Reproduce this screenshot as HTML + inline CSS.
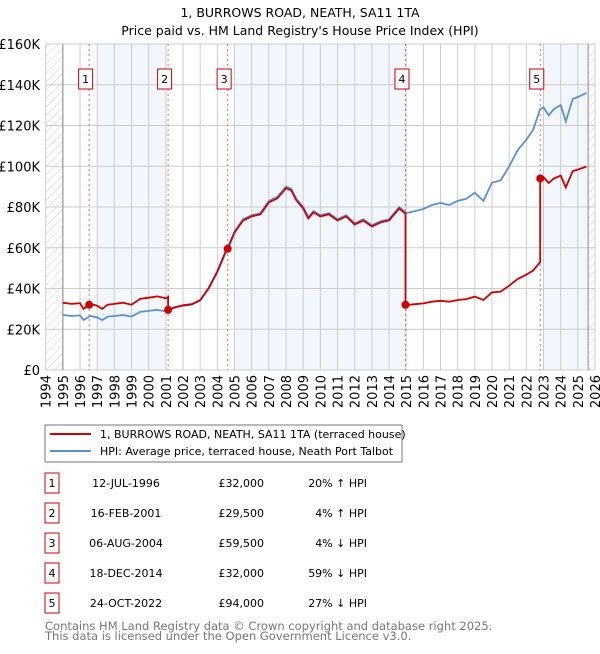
<!DOCTYPE html>
<html><head><meta charset="utf-8"><style>
body{margin:0;background:#fff;font-family:"DejaVu Sans","Liberation Sans",sans-serif;}
svg text{font-family:"DejaVu Sans","Liberation Sans",sans-serif;}
</style></head><body>
<svg id="c" width="600" height="650" xmlns="http://www.w3.org/2000/svg">
<defs><pattern id="hatch" width="6" height="6" patternUnits="userSpaceOnUse" patternTransform="rotate(45)"><line x1="0" y1="0" x2="0" y2="6" stroke="#ccc" stroke-width="1"/></pattern></defs>
<text x="300" y="17" text-anchor="middle" font-size="12.5">1, BURROWS ROAD, NEATH, SA11 1TA</text>
<text x="300" y="35" text-anchor="middle" font-size="12.5">Price paid vs. HM Land Registry's House Price Index (HPI)</text>
<g id="plot"></g>
<rect x="45" y="425" width="357" height="37" fill="#fff" stroke="#777"/>
<line x1="50" y1="434" x2="91" y2="434" stroke="#cc0000" stroke-width="2"/>
<text x="100" y="438" font-size="11">1, BURROWS ROAD, NEATH, SA11 1TA (terraced house)</text>
<line x1="50" y1="451" x2="91" y2="451" stroke="#5b8fd4" stroke-width="2"/>
<text x="100" y="455" font-size="11">HPI: Average price, terraced house, Neath Port Talbot</text>
<g id="tbl" font-size="11"></g>
<text x="45" y="630" font-size="11.5" fill="#777">Contains HM Land Registry data © Crown copyright and database right 2025.</text>
<text x="45" y="640" font-size="11.5" fill="#777">This data is licensed under the Open Government Licence v3.0.</text>
</svg>
<script>
const hpiYears=[1995,1995.5,1996,1996.2,1996.6,1997,1997.3,1997.6,1998,1998.5,1999,1999.5,2000,2000.5,2001,2001.5,2002,2002.5,2003,2003.5,2004,2004.6,2005,2005.5,2006,2006.5,2007,2007.5,2008,2008.3,2008.6,2009,2009.3,2009.6,2010,2010.5,2011,2011.5,2012,2012.5,2013,2013.5,2014,2014.6,2015,2015.5,2016,2016.5,2017,2017.5,2018,2018.5,2019,2019.5,2020,2020.5,2021,2021.5,2022,2022.4,2022.8,2023,2023.3,2023.6,2024,2024.3,2024.7,2025,2025.5];
const hpiValues=[27000,26500,26800,24500,26500,25800,24500,26200,26500,27000,26200,28500,29000,29500,28800,30500,31500,32000,34000,40000,48000,60000,68000,74000,76000,77000,83000,85000,90000,89000,84000,80000,75000,78000,76000,77000,74000,76000,72000,74000,71000,73000,74000,80000,77000,78000,79000,81000,82000,81000,83000,84000,87000,83000,92000,93000,100000,108000,113000,118000,128000,129000,125000,128000,130000,122000,133000,134000,136000];
const saleDates=[1996.53,2001.13,2004.6,2014.96,2022.81];
const salePrices=[32000,29500,59500,32000,94000];
const saleLabels=["1","2","3","4","5"];
const saleDateText=["12-JUL-1996","16-FEB-2001","06-AUG-2004","18-DEC-2014","24-OCT-2022"];
const salePriceText=["£32,000","£29,500","£59,500","£32,000","£94,000"];
const saleHpiText=["20% ↑ HPI","4% ↑ HPI","4% ↓ HPI","59% ↓ HPI","27% ↓ HPI"];
const yTicks=[0,20000,40000,60000,80000,100000,120000,140000,160000];
const yTickLabels=["£0","£20K","£40K","£60K","£80K","£100K","£120K","£140K","£160K"];
const xTicks=[1994,1995,1996,1997,1998,1999,2000,2001,2002,2003,2004,2005,2006,2007,2008,2009,2010,2011,2012,2013,2014,2015,2016,2017,2018,2019,2020,2021,2022,2023,2024,2025,2026];

const NS="http://www.w3.org/2000/svg";
const X0=45.7,X1=595,Y0=370,Y1=44;
const xs=y=>X0+(y-1994)/32*(X1-X0);
const ys=v=>Y0-v/160000*(Y0-Y1);
const plot=document.getElementById('plot');
function mk(tag,attrs,parent){const e=document.createElementNS(NS,tag);for(const k in attrs)e.setAttribute(k,attrs[k]);(parent||plot).appendChild(e);return e;}
const bands=[[1997,2001],[2005,2015],[2023,2025.6]];
bands.forEach(b=>{const r=mk('rect',{x:xs(b[0]),y:Y1,width:xs(b[1])-xs(b[0]),height:Y0-Y1,fill:'#f2f6fd'});

});
const h1=mk('rect',{x:xs(1994),y:Y1,width:xs(1995)-xs(1994),height:Y0-Y1,fill:'url(#hatch)'});


const h2=mk('rect',{x:xs(2025.6),y:Y1,width:xs(2026)-xs(2025.6),height:Y0-Y1,fill:'url(#hatch)'});


yTicks.forEach((v,i)=>{const l=mk('line',{x1:X0,x2:X1,y1:ys(v),y2:ys(v),stroke:'#ccc','stroke-width':1});


const t=mk('text',{x:40,y:ys(v)+5,'text-anchor':'end','font-size':13});t.textContent=yTickLabels[i];

});
xTicks.forEach(yr=>{const l=mk('line',{x1:xs(yr),x2:xs(yr),y1:Y1,y2:Y0,stroke:'#ccc','stroke-width':1});


const t=mk('text',{x:0,y:0,'text-anchor':'end','font-size':13,transform:`translate(${xs(yr)+5},${Y0+5}) rotate(-90)`});t.textContent=yr;

});
const ax1=mk('line',{x1:xs(1995),x2:xs(1995),y1:Y1,y2:Y0,stroke:'#888'});


const ax2=mk('line',{x1:xs(2025.6),x2:xs(2025.6),y1:Y1,y2:Y0,stroke:'#888'});


function hpiAt(t){for(let i=0;i<hpiYears.length-1;i++){if(t<=hpiYears[i+1]){const f=(t-hpiYears[i])/(hpiYears[i+1]-hpiYears[i]);return hpiValues[i]+f*(hpiValues[i+1]-hpiValues[i]);}}return hpiValues[hpiValues.length-1];}
saleDates.forEach((d,i)=>{const l=mk('line',{x1:xs(d),x2:xs(d),y1:Y1,y2:Y0,stroke:'#f06070','stroke-width':1,'stroke-dasharray':'2,3'});


const r=mk('rect',{x:xs(d)-10.5,y:69,width:14,height:20,fill:'#fff',stroke:'#cc0000','stroke-width':1});


const t=mk('text',{x:xs(d)-3.5,y:83,'text-anchor':'middle','font-size':11});t.textContent=saleLabels[i];

});
const hp=mk('path',{d:hpiYears.map((y,i)=>(i?'L':'M')+xs(y).toFixed(1)+','+ys(hpiValues[i]).toFixed(1)).join(''),fill:'none',stroke:'#5b8fd4','stroke-width':1.8});


const pts=[];
const factors=saleDates.map((d,i)=>salePrices[i]/hpiAt(d));
function redAt(t){let k=0;for(let i=0;i<saleDates.length;i++)if(t>=saleDates[i])k=i;return hpiAt(t)*factors[k];}
const tAll=[...hpiYears];saleDates.forEach(d=>{tAll.push(d-0.001);tAll.push(d);});tAll.sort((a,b)=>a-b);
tAll.forEach(t=>pts.push([xs(t),ys(redAt(t))]));
const rp=mk('path',{d:pts.map((p,i)=>(i?'L':'M')+p[0].toFixed(1)+','+p[1].toFixed(1)).join(''),fill:'none',stroke:'#cc0000','stroke-width':1.8});


saleDates.forEach((d,i)=>{const c=mk('circle',{cx:xs(d),cy:ys(salePrices[i]),r:4,fill:'#cc0000'});

});
const tbl=document.getElementById('tbl');
saleDates.forEach((d,i)=>{const y=483+i*30;
const r=mk('rect',{x:45,y:y-10,width:14,height:20,fill:'#fff',stroke:'#cc0000'},tbl);


const a=mk('text',{x:52,y:y+4,'text-anchor':'middle'},tbl);a.textContent=saleLabels[i];


const b=mk('text',{x:126,y:y+4,'text-anchor':'middle'},tbl);b.textContent=saleDateText[i];


const c=mk('text',{x:264,y:y+4,'text-anchor':'end'},tbl);c.textContent=salePriceText[i];


const e=mk('text',{x:367,y:y+4,'text-anchor':'end'},tbl);e.textContent=saleHpiText[i];

});
</script>
</body></html>
